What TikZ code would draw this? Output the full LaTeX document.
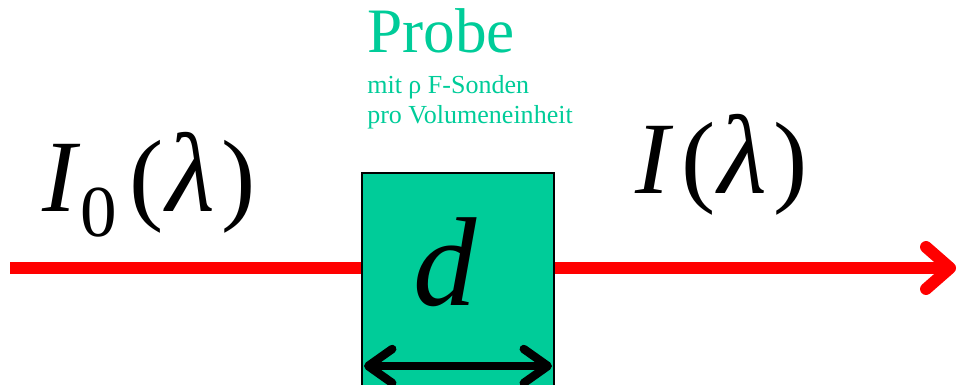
\documentclass[tikz,border=0pt]{standalone}
\usepackage{fontspec}
\setmainfont{Liberation Serif}
\usepackage{tikz}
\usetikzlibrary{arrows.meta,positioning}
\definecolor{probegreen}{RGB}{0,204,153}
\definecolor{beamred}{RGB}{255,0,0}
\newcommand{\biglam}{{\fontsize{80}{80}\selectfont\itshape λ}}

\begin{document}
\begin{tikzpicture}[
      x=0.025cm, y=-0.025cm,
      sample/.style={draw, line width=1.4pt, fill=probegreen,
                  minimum width=4.8cm, minimum height=5.5cm, inner sep=0pt},
      beam/.style={draw=beamred, line width=8.5pt,
                  -{Straight Barb[round, length=0.6cm, width=1.05cm]}},
      thick/.style={draw=black, line width=6pt,
                  {Straight Barb[round, length=0.6cm, width=0.85cm]}-{Straight Barb[round, length=0.6cm, width=0.85cm]}},
      label/.style={inner sep=0pt, anchor=base west}]
    \clip (0,0) rectangle (960,384);
    \coordinate (src) at (10,268);
    \coordinate (dst) at (956,268);
    \draw[beam] (src) -- (dst);

    \node[sample] (probe) at (458,283) {};
    \node[label] (dlabel) at (413,305) {\fontsize{90}{90}\selectfont\itshape d};
    \coordinate (dl) at (364,366);
    \coordinate (dr) at (552,366);
    \draw[thick] (dl) -- (dr);

    \node[label, text=probegreen] (title) at (367,52) {\fontsize{45}{45}\selectfont Probe};
    \node[label, text=probegreen, align=left, font=\fontsize{18.5}{21.3}\selectfont]
      (info) at (367,123) {mit ρ F-Sonden\\pro Volumeneinheit};

    \node[label] (Iin) at (42,211) {\fontsize{73}{73}\selectfont
      \textit{I}\raisebox{-0.25em}{\fontsize{52}{52}\selectfont 0}\kern9pt(\kern2pt\biglam\kern4pt)};
    \node[label] (Iout) at (635,193) {\fontsize{73}{73}\selectfont
      \textit{I}\kern6pt(\kern2pt\biglam\kern4pt)};
  \end{tikzpicture}
\end{document}
